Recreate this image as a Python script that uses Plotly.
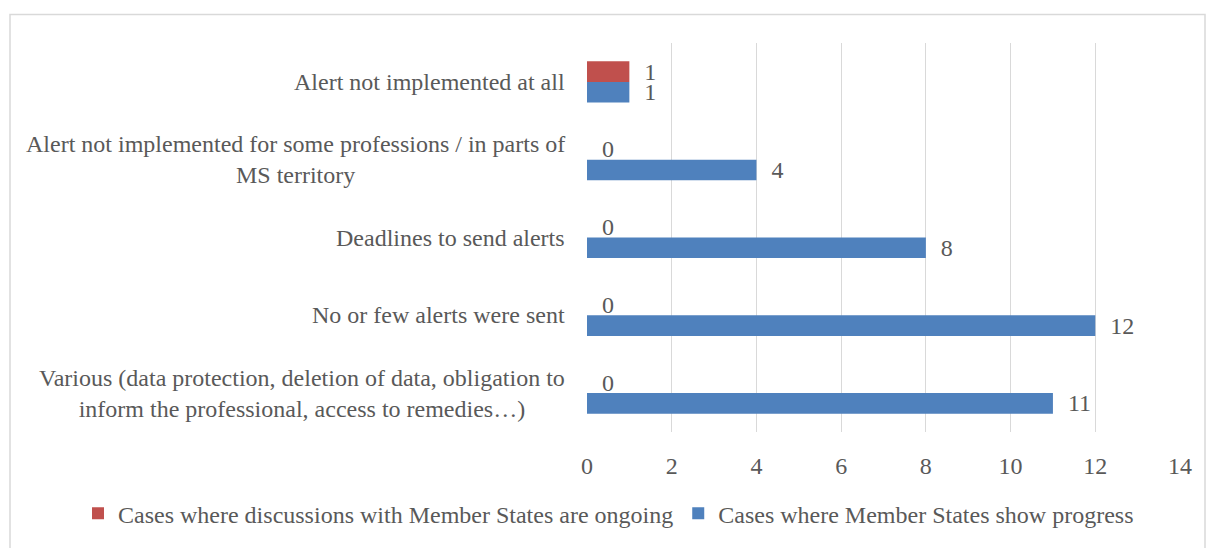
import plotly.graph_objects as go

categories = [
    "Various (data protection, deletion of data, obligation to<br>inform the professional, access to remedies…)",
    "No or few alerts were sent",
    "Deadlines to send alerts",
    "Alert not implemented for some professions / in parts of<br>MS territory",
    "Alert not implemented at all",
]
ongoing = [0, 0, 0, 0, 1]
progress = [11, 12, 8, 4, 1]
x_ticks = [0, 2, 4, 6, 8, 10, 12, 14]

RED = "#C0504D"
BLUE = "#4F81BD"
TXT = "#595959"
FONT = "Liberation Serif"
FS = 24

fig = go.Figure()
fig.add_trace(go.Bar(
    y=categories, x=progress, orientation="h", name="Cases where Member States show progress",
    marker=dict(color=BLUE, line=dict(width=0)),
    text=[f"&nbsp;&nbsp;{v}" for v in progress], textposition="outside", constraintext="none",
    textfont=dict(family=FONT, size=FS, color=TXT), cliponaxis=False, legendrank=2,
))
fig.add_trace(go.Bar(
    y=categories, x=ongoing, orientation="h", name="Cases where discussions with Member States are ongoing",
    marker=dict(color=RED, line=dict(width=0)),
    text=[f"&nbsp;&nbsp;{v}" for v in ongoing], textposition="outside", constraintext="none",
    textfont=dict(family=FONT, size=FS, color=TXT), cliponaxis=False, legendrank=1,
))

# category labels: right-aligned block, lines centred within it (as in the reference)
annotations = [
    dict(text=c, xref="paper", yref="y", x=(567 - 587) / 593, y=c, xanchor="right", yanchor="middle",
         align="center", showarrow=False, font=dict(family=FONT, size=FS, color=TXT))
    for c in categories
]

fig.update_layout(
    width=1206, height=548,
    margin=dict(l=587, r=26, t=43, b=110),
    paper_bgcolor="white", plot_bgcolor="white",
    barmode="group", bargap=0.47, bargroupgap=0,
    font=dict(family=FONT, size=FS, color=TXT),
    showlegend=True,
    legend=dict(orientation="h", x=(78 - 587) / 593, xanchor="left", y=(438 - 521) / 395, yanchor="middle",
                font=dict(family=FONT, size=FS, color=TXT), itemwidth=30,
                traceorder="normal", bgcolor="rgba(0,0,0,0)"),
    xaxis=dict(range=[0, 14], tickvals=x_ticks, showgrid=True, gridcolor="#D9D9D9", gridwidth=1,
               zeroline=False, showline=False, ticks="outside", ticklen=12,
               tickcolor="rgba(0,0,0,0)", tickfont=dict(family=FONT, size=FS, color=TXT)),
    yaxis=dict(showgrid=False, zeroline=False, showline=False, showticklabels=False,
               categoryorder="array", categoryarray=categories),
    annotations=annotations,
    shapes=[dict(type="rect", xref="paper", yref="paper",
                 x0=(10 - 587) / 593, x1=(1205 - 587) / 593,
                 y0=(438 - 560) / 395, y1=(438 - 14) / 395,
                 line=dict(color="#D9D9D9", width=1.5), fillcolor="rgba(0,0,0,0)", layer="below")],
)

fig.write_html("out.html", config={"displayModeBar": False},
               post_script="document.body.style.margin='0';document.body.style.overflow='hidden';")
